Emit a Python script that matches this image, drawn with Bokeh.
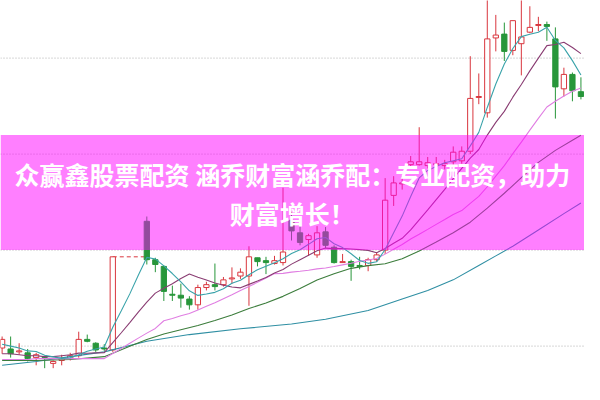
from bokeh.plotting import figure
from bokeh.models import Range1d, BoxAnnotation, Label, Span
from bokeh.embed import file_html
from bokeh.resources import INLINE

# ---- daily candles (None = suspended day) ----
open_ = [3.8, 3.7, 3.4, 3.3, 2.8, 2.8, 2.2, 2.5, 2.7, 3.0, 4.7, 4.3, 3.8, 3.6, None, None, None,
         17.0, 13.0, 12.3, 9.4, 9.3, 8.9, 8.3, 10.1, 10.4, 10.4, 11.0, 11.3, 11.3, 13.2, 12.9, 12.6,
         12.7, 17.1, 15.8, 15.1, 13.5, 15.9, 14.3, 12.7, 12.8, 12.4, 12.4, 13.0, 14.0, 19.7, 20.9,
         22.9, 22.9, 22.8, 22.9, 22.8, 23.2, 23.3, 24.3, 29.9, 28.3, 36.1, 36.5, 34.8, 35.5, 36.7,
         37.4, 37.5, 36.0, 30.8, 32.3, 30.5]
high = [5.0, 5.0, 4.3, 3.7, 3.3, 3.0, 2.5, 3.1, 3.3, 5.5, 5.2, 4.4, 4.2, 13.3, None, None, None,
        17.5, 13.2, 12.4, 10.3, 10.5, 9.2, 10.4, 10.7, 12.6, 11.2, 12.2, 12.1, 14.4, 13.2, 13.3, 13.4,
        20.5, 18.0, 16.5, 15.7, 16.5, 16.4, 14.5, 13.6, 13.0, 13.3, 13.2, 13.8, 21.5, 21.7, 21.7,
        23.8, 26.8, 23.7, 23.7, 23.4, 24.8, 24.8, 34.2, 32.4, 40.5, 38.5, 37.7, 37.9, 40.2, 39.4,
        38.3, 37.8, 37.2, 33.0, 32.5, 32.0]
low = [3.2, 2.8, 3.1, 2.4, 2.0, 1.7, 1.7, 2.0, 2.5, 2.8, 4.4, 3.4, 3.5, 3.4, None, None, None,
       12.5, 11.7, 8.7, 8.7, 8.0, 7.8, 7.8, 9.8, 9.8, 10.2, 10.5, 11.0, 8.2, 12.3, 11.5, 12.5,
       12.4, 15.0, 14.5, 13.4, 13.2, 14.2, 12.6, 12.7, 10.8, 12.0, 11.8, 12.8, 13.6, 18.6, 20.3,
       22.5, 22.8, 22.5, 22.5, 22.4, 22.8, 23.0, 24.0, 29.2, 27.8, 34.7, 33.7, 34.3, 32.2, 36.6,
       36.8, 35.8, 27.7, 30.0, 29.5, 29.7]
close = [4.7, 3.2, 3.5, 2.7, 3.1, 2.7, 2.4, 2.7, 3.0, 4.7, 4.5, 3.6, 3.7, 13.3, None, None, None,
         13.0, 12.5, 9.7, 9.3, 9.0, 8.3, 10.1, 10.4, 10.2, 10.9, 11.1, 11.7, 13.3, 12.8, 12.7, 12.9,
         13.8, 16.0, 14.8, 15.5, 15.8, 14.5, 12.7, 12.8, 12.3, 12.3, 13.0, 13.5, 19.2, 21.0, 21.0,
         23.2, 23.2, 23.1, 23.0, 23.0, 24.2, 24.3, 29.8, 30.0, 36.0, 36.4, 34.7, 37.9, 36.2, 37.2,
         37.5, 37.3, 31.0, 32.3, 30.6, 30.0]
suspended_days = [14, 15, 16]

# ---- moving averages ----
ma5 = [4.2, 4.0, 3.8, 3.5, 3.44, 3.04, 2.88, 2.72, 2.78, 3.10, 3.46, 3.70, 3.90, 5.96, 7.68, 9.44,
       11.38, 13.24, 13.08, 12.36, 11.56, 10.70, 9.76, 9.28, 9.42, 9.60, 9.98, 10.54, 10.86, 11.44,
       11.96, 12.32, 12.68, 13.10, 13.64, 14.04, 14.60, 15.18, 15.32, 14.66, 14.26, 13.62, 12.92,
       12.62, 12.78, 14.06, 15.80, 17.54, 19.58, 21.52, 22.30, 22.70, 23.10, 23.30, 23.52, 24.86,
       26.26, 28.86, 31.30, 33.38, 35.00, 36.24, 36.48, 36.70, 37.22, 35.84, 35.06, 33.74, 32.24]
ma10 = [3.2, 3.2, 3.1, 3.0, 3.0, 2.9, 2.9, 3.0, 3.1, 3.27, 3.25, 3.29, 3.31, 4.37, 5.39, 6.45,
        7.54, 8.57, 9.52, 10.02, 10.50, 11.04, 11.50, 11.18, 10.89, 10.58, 10.34, 10.15, 10.07,
        10.43, 10.78, 11.15, 11.61, 11.98, 12.54, 13.00, 13.46, 13.93, 14.21, 14.15, 14.15, 14.11,
        14.05, 13.97, 13.72, 14.16, 14.71, 15.23, 16.10, 17.15, 18.18, 19.25, 20.32, 21.44, 22.52,
        23.58, 24.48, 25.98, 27.30, 28.45, 29.93, 31.25, 32.67, 34.00, 35.30, 35.42, 35.65, 35.11,
        34.47]
ma20 = [2.6, 2.6, 2.6, 2.6, 2.7, 2.7, 2.7, 2.7, 2.7, 2.7, 2.7, 2.7, 2.7, 3.23, 3.76, 4.30, 4.83,
        5.35, 5.84, 6.64, 6.87, 7.16, 7.40, 7.77, 8.14, 8.51, 8.94, 9.36, 9.80, 10.22, 10.64, 11.10,
        11.55, 11.58, 11.71, 11.79, 11.90, 12.04, 12.14, 12.29, 12.46, 12.63, 12.83, 12.97, 13.13,
        13.58, 14.08, 14.58, 15.15, 15.65, 16.16, 16.68, 17.18, 17.70, 18.12, 18.87, 19.59, 20.60,
        21.70, 22.80, 24.05, 25.25, 26.50, 27.72, 28.91, 29.50, 30.06, 30.54, 30.88]
ma30_days = [0, 4, 8, 12, 13, 15, 17, 19, 21, 23, 25, 27, 29, 31, 33, 35, 37, 39, 41, 43, 45, 47,
             49, 51, 53, 55, 57, 59, 61, 63, 65, 67, 68]
ma30 = [2.5, 2.5, 2.6, 2.9, 3.26, 3.98, 4.69, 5.26, 5.71, 6.15, 6.67, 7.24, 7.91, 8.49, 9.18, 10.01,
        10.88, 11.53, 12.10, 12.38, 12.58, 13.10, 13.91, 14.84, 15.80, 16.91, 18.38, 19.92, 21.54,
        23.14, 24.39, 25.44, 25.96]
ma60_days = [0, 4, 8, 12, 17, 22, 28, 34, 38, 43, 47, 50, 53, 56, 58, 60, 63, 66, 68]
ma60 = [2.0, 2.4, 2.9, 3.4, 4.5, 5.2, 5.8, 6.3, 6.8, 7.7, 8.9, 9.8, 10.9, 12.4, 13.4, 14.4, 16.1,
        17.8, 18.9]

grid_levels = [4, 14, 24, 34]
banner_range = [14, 26]
title_lines = ["众赢鑫股票配资 涵乔财富涵乔配：专业配资，助力", "财富增长！"]

RED = "#d9363e"
GREEN = "#27963a"

p = figure(width=584, height=384, output_backend="svg", toolbar_location=None,
           x_range=Range1d(-0.19, 68.42), y_range=Range1d(0, 40), min_border=0)
p.axis.visible = False
p.grid.visible = False
p.outline_line_color = None
p.background_fill_color = "white"
p.border_fill_color = "white"

for g in grid_levels:
    p.add_layout(Span(location=g, dimension="width", line_color="#b0b0b0",
                      line_dash="1 2", line_width=1, level="underlay"))

days = list(range(len(close)))
valid = [i for i in days if close[i] is not None]
up = [i for i in valid if close[i] >= open_[i]]
dn = [i for i in valid if close[i] < open_[i]]

# suspension dashed line
s0, s1 = suspended_days[0] - 1, suspended_days[-1] + 1
p.line([s0, s1], [close[s0], close[s0]], line_color=RED, line_dash="4 3", line_width=1)

for idx, col, fill in ((up, RED, "white"), (dn, GREEN, GREEN)):
    p.segment(x0=idx, y0=[high[i] for i in idx], x1=idx, y1=[low[i] for i in idx],
              line_color=col, line_width=1)
    p.vbar(x=idx, width=0.62, top=[max(open_[i], close[i]) for i in idx],
           bottom=[min(open_[i], close[i]) for i in idx],
           fill_color=fill, line_color=col, line_width=1)

p.line(ma60_days, ma60, line_color="#2f8fa3", line_width=1.1)
p.line(ma30_days, ma30, line_color="#3c7d3c", line_width=1.1)
p.line(days, ma20, line_color="#e07ee2", line_width=1.1)
p.line(days, ma10, line_color="#8a3d73", line_width=1.1)
p.line(days, ma5, line_color="#3aa3aa", line_width=1.1)

p.add_layout(BoxAnnotation(bottom=banner_range[0], top=banner_range[1], fill_color="#ff00ff",
                           fill_alpha=0.5, line_color=None))

p.add_layout(Label(x=34.1, y=21.9, text=title_lines[0], text_align="center",
                   text_baseline="middle", text_color="white", text_font="Noto Sans CJK SC",
                   text_font_style="bold", text_font_size="25px"))
p.add_layout(Label(x=34.1, y=17.9, text=title_lines[1], text_align="center",
                   text_baseline="middle", text_color="white", text_font="Noto Sans CJK SC",
                   text_font_style="bold", text_font_size="25px"))

open("out.html", "w").write(file_html(p, INLINE))
